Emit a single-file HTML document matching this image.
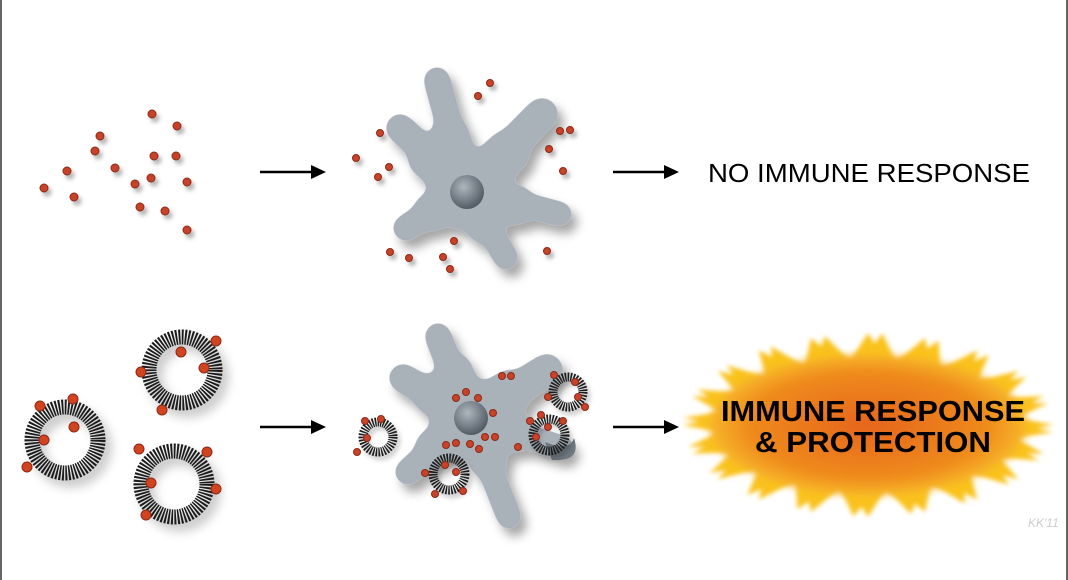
<!DOCTYPE html>
<html><head><meta charset="utf-8"><style>
html,body{margin:0;padding:0;background:#fff}
svg{display:block}
</style></head><body>
<svg width="1068" height="580" viewBox="0 0 1068 580" xmlns="http://www.w3.org/2000/svg">
<defs>
<filter id="sh" x="-30%" y="-30%" width="160%" height="160%"><feDropShadow dx="6" dy="7" stdDeviation="5" flood-color="#000" flood-opacity="0.35"/></filter>
<filter id="goo" x="-30%" y="-30%" width="160%" height="160%">
<feGaussianBlur in="SourceGraphic" stdDeviation="5" result="b"/>
<feColorMatrix in="b" type="matrix" values="1 0 0 0 0  0 1 0 0 0  0 0 1 0 0  0 0 0 14 -6" result="g"/>
<feDropShadow in="g" dx="6" dy="8" stdDeviation="5" flood-color="#000" flood-opacity="0.35"/>
</filter>
<filter id="dsh" x="-100%" y="-100%" width="400%" height="400%"><feDropShadow dx="3" dy="4" stdDeviation="2" flood-color="#000" flood-opacity="0.3"/></filter>
<filter id="blur"><feGaussianBlur stdDeviation="4"/></filter>
<filter id="blur2"><feGaussianBlur stdDeviation="2.5"/></filter>
<radialGradient id="nuc" cx="0.4" cy="0.35" r="0.7"><stop offset="0" stop-color="#aeb6be"/><stop offset="1" stop-color="#4c555e"/></radialGradient>
<radialGradient id="org" cx="0.5" cy="0.5" r="0.5"><stop offset="0" stop-color="#e5651a"/><stop offset="0.75" stop-color="#ef8a1c"/><stop offset="1" stop-color="#f7b52a"/></radialGradient>
</defs>
<rect x="0" y="0" width="1068" height="580" fill="#fff"/>
<rect x="0" y="0" width="2" height="580" fill="#666"/>
<rect x="1066" y="0" width="2" height="580" fill="#666"/>

<g fill="#c8432a" stroke="#8a2a18" stroke-width="1" filter="url(#dsh)">
<circle cx="152" cy="114" r="4"/><circle cx="177" cy="126" r="4"/><circle cx="100" cy="136" r="4"/><circle cx="95" cy="151" r="4"/><circle cx="154" cy="156" r="4"/><circle cx="176" cy="156" r="4"/><circle cx="67" cy="171" r="4"/><circle cx="115" cy="168" r="4"/><circle cx="135" cy="184" r="4"/><circle cx="151" cy="178" r="4"/><circle cx="187" cy="182" r="4"/><circle cx="44" cy="188" r="4"/><circle cx="74" cy="197" r="4"/><circle cx="140" cy="207" r="4"/><circle cx="165" cy="211" r="4"/><circle cx="187" cy="230" r="4"/>
</g>

<g stroke="#000" stroke-width="2.5" fill="#000">
<line x1="260" y1="172" x2="315" y2="172"/><polygon points="326,172 311,165 311,179" stroke="none"/>
<line x1="613" y1="172" x2="668" y2="172"/><polygon points="679,172 664,165 664,179" stroke="none"/>
<line x1="260" y1="427" x2="315" y2="427"/><polygon points="326,427 311,420 311,434" stroke="none"/>
<line x1="613" y1="427" x2="668" y2="427"/><polygon points="679,427 664,420 664,434" stroke="none"/>
</g>

<!-- top cell -->
<g filter="url(#goo)">
<g stroke="#a9b1b9" stroke-linecap="round" fill="#a9b1b9">
<line x1="467" y1="190" x2="437" y2="80" stroke-width="26"/>
<line x1="467" y1="190" x2="450" y2="135" stroke-width="38"/>
<line x1="467" y1="190" x2="400" y2="128" stroke-width="28"/>
<line x1="467" y1="190" x2="428" y2="158" stroke-width="40"/>
<line x1="467" y1="190" x2="542" y2="114" stroke-width="32"/>
<line x1="467" y1="190" x2="508" y2="152" stroke-width="44"/>
<line x1="467" y1="190" x2="560" y2="214" stroke-width="24"/>
<line x1="467" y1="190" x2="515" y2="205" stroke-width="40"/>
<line x1="467" y1="190" x2="506" y2="258" stroke-width="24"/>
<line x1="467" y1="190" x2="485" y2="225" stroke-width="38"/>
<line x1="467" y1="190" x2="406" y2="228" stroke-width="26"/>
<line x1="467" y1="190" x2="432" y2="212" stroke-width="38"/>
<circle cx="467" cy="190" r="40" stroke="none"/>
</g>
</g>
<circle cx="467" cy="192" r="17" fill="url(#nuc)"/>
<g fill="#c8432a" stroke="#8a2a18" stroke-width="1" filter="url(#dsh)">
<circle cx="490" cy="83" r="3.5"/><circle cx="478" cy="96" r="3.5"/><circle cx="380" cy="133" r="3.5"/><circle cx="356" cy="158" r="3.5"/><circle cx="389" cy="167" r="3.5"/><circle cx="378" cy="177" r="3.5"/><circle cx="560" cy="131" r="3.5"/><circle cx="570" cy="130" r="3.5"/><circle cx="549" cy="149" r="3.5"/><circle cx="563" cy="171" r="3.5"/><circle cx="390" cy="252" r="3.5"/><circle cx="409" cy="258" r="3.5"/><circle cx="454" cy="241" r="3.5"/><circle cx="443" cy="257" r="3.5"/><circle cx="450" cy="269" r="3.5"/><circle cx="547" cy="251" r="3.5"/>
</g>
<text x="708" y="182" font-family="Liberation Sans, sans-serif" font-size="26" fill="#000" textLength="322" lengthAdjust="spacingAndGlyphs">NO IMMUNE RESPONSE</text>

<g filter="url(#sh)" fill="none">
<circle cx="182" cy="370" r="33" stroke="#1e1e1e" stroke-width="15" stroke-dasharray="1.8 1.3"/>
<circle cx="65" cy="440" r="33" stroke="#1e1e1e" stroke-width="15" stroke-dasharray="1.8 1.3"/>
<circle cx="174" cy="484" r="33" stroke="#1e1e1e" stroke-width="15" stroke-dasharray="1.8 1.3"/>
</g>
<g fill="#d2441f" stroke="#8a2a18" stroke-width="1">
<circle cx="216" cy="341" r="5"/><circle cx="181" cy="352" r="5"/><circle cx="141" cy="372" r="5"/><circle cx="204" cy="368" r="5"/><circle cx="162" cy="410" r="5"/>
<circle cx="40" cy="406" r="5"/><circle cx="73" cy="399" r="5"/><circle cx="74" cy="427" r="5"/><circle cx="44" cy="440" r="5"/><circle cx="27" cy="467" r="5"/>
<circle cx="139" cy="449" r="5"/><circle cx="207" cy="452" r="5"/><circle cx="151" cy="483" r="5"/><circle cx="216" cy="489" r="5"/><circle cx="146" cy="515" r="5"/>
</g>

<!-- bottom cell -->
<g filter="url(#goo)">
<g stroke="#a9b1b9" stroke-linecap="round" fill="#a9b1b9">
<line x1="470" y1="418" x2="438" y2="336" stroke-width="26"/>
<line x1="470" y1="418" x2="454" y2="372" stroke-width="38"/>
<line x1="470" y1="418" x2="403" y2="378" stroke-width="28"/>
<line x1="470" y1="418" x2="432" y2="394" stroke-width="40"/>
<line x1="470" y1="418" x2="547" y2="370" stroke-width="32"/>
<line x1="470" y1="418" x2="510" y2="392" stroke-width="44"/>
<line x1="470" y1="418" x2="562" y2="448" stroke-width="24"/>
<line x1="470" y1="418" x2="515" y2="432" stroke-width="40"/>
<line x1="470" y1="418" x2="509" y2="517" stroke-width="24"/>
<line x1="470" y1="418" x2="488" y2="460" stroke-width="38"/>
<line x1="470" y1="418" x2="408" y2="472" stroke-width="26"/>
<line x1="470" y1="418" x2="434" y2="448" stroke-width="38"/>
<circle cx="470" cy="418" r="40" stroke="none"/>
</g>
</g>
<path d="M545 442 Q570 452 574 438 Q582 462 552 460 Z" fill="#6f7880"/>
<circle cx="471" cy="418" r="17" fill="url(#nuc)"/>
<g fill="#c8432a" stroke="#8a2a18" stroke-width="1">
<circle cx="502" cy="376" r="3.5"/><circle cx="511" cy="376" r="3.5"/><circle cx="466" cy="392" r="3.5"/><circle cx="456" cy="398" r="3.5"/><circle cx="478" cy="398" r="3.5"/><circle cx="493" cy="413" r="3.5"/><circle cx="446" cy="445" r="3.5"/><circle cx="456" cy="443" r="3.5"/><circle cx="470" cy="444" r="3.5"/><circle cx="485" cy="437" r="3.5"/><circle cx="495" cy="437" r="3.5"/><circle cx="479" cy="449" r="3.5"/><circle cx="518" cy="447" r="3.5"/>
</g>
<g filter="url(#dsh)" fill="none" stroke="#1e1e1e" stroke-dasharray="1.5 1.2">
<circle cx="378" cy="437" r="15" stroke-width="9"/>
<circle cx="568" cy="392" r="15" stroke-width="9"/>
<circle cx="549" cy="435" r="16" stroke-width="9"/>
<circle cx="449" cy="474" r="16" stroke-width="9"/>
</g>
<g fill="#c8432a" stroke="#8a2a18" stroke-width="1">
<circle cx="365" cy="421" r="3.5"/><circle cx="381" cy="419" r="3.5"/><circle cx="367" cy="438" r="3.5"/><circle cx="357" cy="452" r="3.5"/>
<circle cx="554" cy="375" r="3.5"/><circle cx="575" cy="382" r="3.5"/><circle cx="578" cy="397" r="3.5"/><circle cx="585" cy="407" r="3.5"/><circle cx="548" cy="397" r="3.5"/>
<circle cx="530" cy="421" r="3.5"/><circle cx="541" cy="415" r="3.5"/><circle cx="563" cy="421" r="3.5"/><circle cx="548" cy="427" r="3.5"/><circle cx="536" cy="437" r="3.5"/>
<circle cx="425" cy="473" r="3.5"/><circle cx="445" cy="465" r="3.5"/><circle cx="456" cy="472" r="3.5"/><circle cx="435" cy="494" r="3.5"/><circle cx="463" cy="491" r="3.5"/>
</g>

<!-- burst -->
<g transform="translate(868 425) scale(0.95 0.82) translate(-868 -425)" filter="url(#blur2)">
<polygon fill="#f9c21a" points="1063,425 1016,436 1053,460 1002,458 1026,491 974,476 983,516 936,489 928,531 891,496 868,537 845,496 808,531 800,489 753,516 762,476 710,491 734,458 683,460 720,436 673,425 720,414 683,390 734,392 710,359 762,374 753,334 800,361 808,319 845,354 868,313 891,354 928,319 936,361 983,334 974,374 1026,359 1002,392 1053,390 1016,414"/>
<polygon fill="#f9c21a" transform="translate(868 425) scale(1 0.574) rotate(4.5) scale(1 1.742) translate(-868 -425)" points="1063,425 1016,436 1053,460 1002,458 1026,491 974,476 983,516 936,489 928,531 891,496 868,537 845,496 808,531 800,489 753,516 762,476 710,491 734,458 683,460 720,436 673,425 720,414 683,390 734,392 710,359 762,374 753,334 800,361 808,319 845,354 868,313 891,354 928,319 936,361 983,334 974,374 1026,359 1002,392 1053,390 1016,414"/>
</g>
<ellipse cx="868" cy="425" rx="158" ry="70" fill="url(#org)" filter="url(#blur)"/>
<g font-family="Liberation Sans, sans-serif" font-weight="bold" font-size="29" fill="#000" text-anchor="middle">
<text x="873" y="421" textLength="304" lengthAdjust="spacingAndGlyphs">IMMUNE RESPONSE</text>
<text x="873" y="452" textLength="236" lengthAdjust="spacingAndGlyphs">&amp; PROTECTION</text>
</g>
<text x="1028" y="527" font-family="Liberation Sans, sans-serif" font-style="italic" font-size="12" fill="#ccc">KK'11</text>
</svg>
</body></html>
